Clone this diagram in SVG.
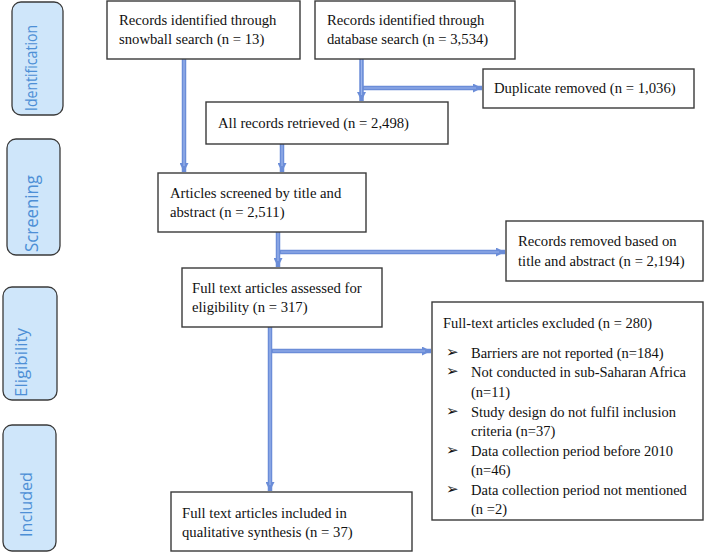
<svg xmlns="http://www.w3.org/2000/svg" width="709" height="553" viewBox="0 0 709 553">
<defs>
<style>
.stage rect{fill:#cfe6fa;stroke:#3a3a3a;stroke-width:1.3}
.stage text{font-family:"Open Sans","Noto Sans",sans-serif;fill:#4d8fd6}
.box rect{fill:#fff;stroke:#3a3a3a;stroke-width:1.4}
.box text{font-family:"Liberation Serif","Times New Roman",serif;font-size:14.7px;fill:#111}
.box text.ex{font-size:14.5px}
.bul{font-family:"DejaVu Sans",sans-serif;font-size:10px}
.c-out{stroke:#6b8dd8;stroke-width:4.5;fill:none}
.c-in{stroke:#9bb4ec;stroke-width:1.2;fill:none}
</style>
<marker id="ah" viewBox="0 0 10 10" refX="10" refY="5" markerWidth="9" markerHeight="9" markerUnits="userSpaceOnUse" orient="auto">
<path d="M0,0 L10,5 L0,10 z" fill="#6b8dd8"/>
</marker>
</defs>

<g id="stage-identification" class="stage">
<rect x="12" y="2" width="51" height="113" rx="9"/>
<text transform="translate(37,111) rotate(-90)" font-size="17" textLength="86" lengthAdjust="spacingAndGlyphs">Identification</text>
</g>
<g id="stage-screening" class="stage">
<rect x="7" y="139" width="53" height="116" rx="9"/>
<text transform="translate(38,252) rotate(-90)" font-size="18" textLength="77" lengthAdjust="spacingAndGlyphs">Screening</text>
</g>
<g id="stage-eligibility" class="stage">
<rect x="3" y="287" width="54" height="113" rx="9"/>
<text transform="translate(27,397) rotate(-90)" font-size="17" textLength="69" lengthAdjust="spacingAndGlyphs">Eligibility</text>
</g>
<g id="stage-included" class="stage">
<rect x="3" y="425" width="53" height="126" rx="9"/>
<text transform="translate(32,537) rotate(-90)" font-size="17" textLength="65" lengthAdjust="spacingAndGlyphs">Included</text>
</g>

<g id="connectors">
<path class="c-out" d="M184,59 V172" marker-end="url(#ah)"/>
<path class="c-out" d="M361.5,59 V101" marker-end="url(#ah)"/>
<path class="c-out" d="M363,88 H482" marker-end="url(#ah)"/>
<path class="c-out" d="M282,144 V172" marker-end="url(#ah)"/>
<path class="c-out" d="M278,232 V267" marker-end="url(#ah)"/>
<path class="c-out" d="M280,252 H505" marker-end="url(#ah)"/>
<path class="c-out" d="M270,327 V491" marker-end="url(#ah)"/>
<path class="c-out" d="M272,351 H431" marker-end="url(#ah)"/>
<path class="c-in" d="M184,59 V166 M361.5,59 V95 M364,88 H476 M282,144 V166 M278,232 V261 M281,252 H499 M270,327 V485 M273,351 H425"/>
</g>

<g id="snowball" class="box">
<rect x="107" y="1" width="193" height="58"/>
<text x="119" y="25">Records identified through</text>
<text x="119" y="44">snowball search (n = 13)</text>
</g>
<g id="database" class="box">
<rect x="315" y="1" width="200" height="58"/>
<text x="327" y="25">Records identified through</text>
<text x="327" y="44">database search (n = 3,534)</text>
</g>
<g id="duplicate" class="box">
<rect x="483" y="69" width="211" height="39"/>
<text x="494" y="93">Duplicate removed (n = 1,036)</text>
</g>
<g id="retrieved" class="box">
<rect x="206" y="102" width="242" height="42"/>
<text x="218" y="128">All records retrieved (n = 2,498)</text>
</g>
<g id="screened" class="box">
<rect x="158" y="173" width="208" height="59"/>
<text x="170" y="198">Articles screened by title and</text>
<text x="170" y="217">abstract (n = 2,511)</text>
</g>
<g id="removed" class="box">
<rect x="506" y="221" width="197" height="60"/>
<text x="518" y="246">Records removed based on</text>
<text x="518" y="266">title and abstract (n = 2,194)</text>
</g>
<g id="assessed" class="box">
<rect x="182" y="268" width="200" height="59"/>
<text x="192" y="293">Full text articles assessed for</text>
<text x="192" y="312">eligibility (n = 317)</text>
</g>
<g id="excluded" class="box">
<rect x="432" y="302" width="271" height="218"/>
<text class="ex" x="443" y="328">Full-text articles excluded (n = 280)</text>
<text class="bul" x="446" y="357">➢</text>
<text class="ex" x="471" y="358">Barriers are not reported (n=184)</text>
<text class="bul" x="446" y="376">➢</text>
<text class="ex" x="471" y="377">Not conducted in sub-Saharan Africa</text>
<text class="ex" x="471" y="397">(n=11)</text>
<text class="bul" x="446" y="416">➢</text>
<text class="ex" x="471" y="417">Study design do not fulfil inclusion</text>
<text class="ex" x="471" y="436">criteria (n=37)</text>
<text class="bul" x="446" y="455">➢</text>
<text class="ex" x="471" y="456">Data collection period before 2010</text>
<text class="ex" x="471" y="475">(n=46)</text>
<text class="bul" x="446" y="494">➢</text>
<text class="ex" x="471" y="495">Data collection period not mentioned</text>
<text class="ex" x="471" y="514">(n =2)</text>
</g>
<g id="included" class="box">
<rect x="171" y="492" width="241" height="59"/>
<text x="182" y="518">Full text articles included in</text>
<text x="182" y="537">qualitative synthesis (n = 37)</text>
</g>
</svg>
